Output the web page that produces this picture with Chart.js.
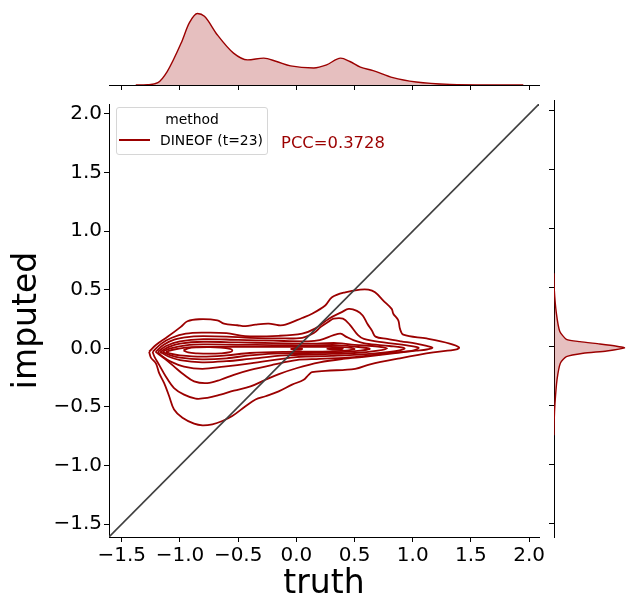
<!DOCTYPE html>
<html>
<head>
<meta charset="utf-8">
<script src="https://cdn.jsdelivr.net/npm/chart.js@4.4.1/dist/chart.umd.min.js"></script>
<style>
  body { margin: 0; background: #fff; }
  #wrap { position: relative; width: 637px; height: 615px; font-family: 'DejaVu Sans', sans-serif; }
  canvas { position: absolute; }
</style>
</head>
<body>
<div id="wrap">
  <canvas id="topChart" width="550" height="100" style="left:0;top:0"></canvas>
  <canvas id="mainChart" width="550" height="525" style="left:0;top:90px"></canvas>
  <canvas id="rightChart" width="97" height="525" style="left:540px;top:90px"></canvas>

  <div id="legend" style="position:absolute;left:116px;top:107px;width:150px;height:46px;border:1px solid #d6d6d6;border-radius:3px;background:rgba(255,255,255,0.8);font-size:13.9px;color:#000">
    <div style="position:absolute;left:0;width:100%;top:2px;text-align:center;line-height:18px">method</div>
    <div style="position:absolute;left:2px;top:31px;width:31px;height:2px;background:#9b0000"></div>
    <div style="position:absolute;left:43px;top:23px;line-height:18px;white-space:nowrap">DINEOF (t=23)</div>
  </div>
  <div id="pcc" style="position:absolute;left:281px;top:133px;font-size:16.4px;line-height:20px;color:#9b0000;white-space:nowrap">PCC=0.3728</div>
</div>

<script>
const lineColor = '#9b0000';
const fillColor = 'rgba(155,0,0,0.25)';

// axis limits and ticks (shared by x and y)
const axisMin = -1.61;
const axisMax = 2.085;
const tickValues = [-1.5, -1.0, -0.5, 0.0, 0.5, 1.0, 1.5, 2.0];

// identity line
const diagonal = [[-1.61, -1.61], [2.085, 2.085]];

// marginal kde of truth
const truthX = [-1.38, -1.28, -1.19, -1.11, -0.99, -0.92, -0.85, -0.79, -0.68, -0.54, -0.42, -0.28, -0.17, -0.05, 0.15, 0.26, 0.38, 0.46, 0.55, 0.66, 0.83, 1.03, 1.32, 1.75, 1.95];
const truthDensity = [0, 0.004, 0.033, 0.188, 0.587, 0.869, 1.0, 0.962, 0.704, 0.446, 0.352, 0.376, 0.329, 0.268, 0.239, 0.282, 0.376, 0.329, 0.249, 0.202, 0.103, 0.042, 0.009, 0.001, 0];

// marginal kde of imputed
const imputedY = [-0.75, -0.62, -0.48, -0.28, -0.14, -0.085, -0.056, -0.037, -0.011, 0.003, 0.022, 0.042, 0.062, 0.13, 0.285, 0.48, 0.62];
const imputedDensity = [0, 0.003, 0.014, 0.043, 0.09, 0.176, 0.414, 0.748, 1.0, 0.89, 0.652, 0.367, 0.176, 0.081, 0.033, 0.004, 0];

// kde contour levels, outermost first (truth, imputed)
const contour1 = [[-1.265,-0.029],[-1.207,0.028],[-1.107,0.098],[-0.993,0.183],[-0.936,0.231],[-0.836,0.248],[-0.679,0.239],[-0.622,0.21],[-0.508,0.197],[-0.437,0.189],[-0.351,0.202],[-0.237,0.21],[-0.152,0.197],[-0.094,0.202],[0.049,0.259],[0.134,0.295],[0.248,0.366],[0.306,0.436],[0.42,0.478],[0.548,0.501],[0.619,0.501],[0.676,0.478],[0.747,0.408],[0.819,0.337],[0.833,0.295],[0.876,0.239],[0.89,0.168],[0.919,0.117],[1.119,0.084],[1.318,0.041],[1.398,0.008],[1.376,-0.009],[1.176,-0.035],[0.89,-0.085],[0.634,-0.136],[0.505,-0.175],[0.248,-0.192],[0.134,-0.204],[0.105,-0.226],[0.063,-0.268],[-0.037,-0.31],[-0.152,-0.367],[-0.265,-0.409],[-0.351,-0.437],[-0.437,-0.494],[-0.551,-0.578],[-0.636,-0.62],[-0.722,-0.648],[-0.807,-0.657],[-0.879,-0.643],[-0.979,-0.593],[-1.051,-0.522],[-1.093,-0.409],[-1.136,-0.297],[-1.179,-0.212],[-1.207,-0.128],[-1.25,-0.079],[-1.265,-0.029]];
const contour2 = [[-1.235,-0.03],[-1.16,0.04],[-1.07,0.09],[-0.95,0.125],[-0.8,0.134],[-0.6,0.13],[-0.44,0.104],[-0.15,0.107],[0.05,0.126],[0.16,0.168],[0.28,0.253],[0.39,0.309],[0.45,0.337],[0.52,0.32],[0.57,0.28],[0.61,0.21],[0.65,0.15],[0.68,0.1],[0.78,0.08],[0.9,0.06],[1.03,0.04],[1.12,0.02],[1.17,0.005],[1.12,-0.01],[1.03,-0.02],[0.85,-0.04],[0.6,-0.07],[0.4,-0.09],[0.2,-0.12],[0.0,-0.17],[-0.15,-0.22],[-0.265,-0.268],[-0.394,-0.325],[-0.537,-0.361],[-0.651,-0.395],[-0.765,-0.423],[-0.865,-0.429],[-0.965,-0.395],[-1.051,-0.339],[-1.122,-0.24],[-1.179,-0.141],[-1.22,-0.07],[-1.235,-0.03]];
const contour3 = [[-1.21,-0.03],[-1.14,0.03],[-1.05,0.075],[-0.9,0.1],[-0.8,0.104],[-0.6,0.1],[-0.4,0.09],[-0.15,0.085],[0.05,0.09],[0.15,0.13],[0.21,0.183],[0.28,0.23],[0.32,0.253],[0.4,0.253],[0.46,0.2],[0.53,0.112],[0.58,0.08],[0.75,0.05],[0.95,0.025],[1.05,0.005],[1.0,-0.02],[0.8,-0.04],[0.5,-0.075],[0.2,-0.09],[0.0,-0.1],[-0.2,-0.14],[-0.394,-0.184],[-0.537,-0.226],[-0.651,-0.268],[-0.765,-0.297],[-0.879,-0.282],[-0.965,-0.226],[-1.05,-0.156],[-1.13,-0.09],[-1.21,-0.03]];
const contour4 = [[-1.19,-0.03],[-1.12,0.02],[-1.0,0.06],[-0.8,0.079],[-0.5,0.072],[-0.2,0.065],[0.1,0.06],[0.2,0.07],[0.32,0.112],[0.38,0.126],[0.43,0.098],[0.49,0.07],[0.6,0.04],[0.8,0.02],[0.93,0.0],[0.85,-0.025],[0.6,-0.05],[0.3,-0.065],[0.0,-0.075],[-0.394,-0.128],[-0.622,-0.156],[-0.807,-0.175],[-0.965,-0.156],[-1.079,-0.113],[-1.15,-0.07],[-1.19,-0.03]];
const contour5 = [[-1.17,-0.03],[-1.1,0.01],[-1.0,0.04],[-0.8,0.056],[-0.5,0.05],[-0.2,0.045],[0.1,0.04],[0.35,0.045],[0.5,0.03],[0.7,0.015],[0.78,0.0],[0.7,-0.02],[0.5,-0.04],[0.2,-0.05],[-0.1,-0.06],[-0.4,-0.09],[-0.6,-0.11],[-0.81,-0.119],[-1.0,-0.1],[-1.1,-0.07],[-1.17,-0.03]];
const contour6 = [[-1.15,-0.03],[-1.08,0.0],[-0.95,0.025],[-0.8,0.033],[-0.5,0.03],[-0.2,0.028],[0.1,0.025],[0.35,0.028],[0.5,0.015],[0.63,-0.003],[0.55,-0.02],[0.35,-0.035],[0.1,-0.04],[-0.2,-0.045],[-0.4,-0.06],[-0.6,-0.085],[-0.81,-0.094],[-1.0,-0.08],[-1.08,-0.06],[-1.15,-0.03]];
const contour7 = [[-1.12,-0.03],[-1.05,-0.01],[-0.9,0.01],[-0.7,0.012],[-0.4,0.012],[-0.1,0.012],[0.2,0.012],[0.4,0.01],[0.5,-0.005],[0.42,-0.02],[0.2,-0.028],[-0.1,-0.03],[-0.4,-0.04],[-0.6,-0.06],[-0.81,-0.071],[-1.0,-0.06],[-1.08,-0.045],[-1.12,-0.03]];
const contour8a = [[-0.97,-0.018],[-0.93,0.0],[-0.85,0.008],[-0.75,0.01],[-0.65,0.007],[-0.57,-0.005],[-0.55,-0.018],[-0.57,-0.033],[-0.65,-0.043],[-0.75,-0.046],[-0.85,-0.043],[-0.93,-0.035],[-0.97,-0.018]];
const contour8b = [[-0.05,-0.005],[0.0,0.003],[0.05,-0.005],[0.0,-0.013],[-0.05,-0.005]];
const contour8c = [[0.26,-0.003],[0.33,0.005],[0.4,-0.003],[0.33,-0.011],[0.26,-0.003]];
const contours = [contour1, contour2, contour3, contour4, contour5, contour6, contour7, contour8a, contour8b, contour8c];

const font = 'DejaVu Sans';
const fmt = v => (v < 0 ? '\u2212' : '') + Math.abs(v).toFixed(1);
const setTicks = s => { s.ticks = tickValues.map(v => ({ value: v })); };
const toXY = arr => arr.map(p => ({ x: p[0], y: p[1] }));

function axisStyle(showLabels) {
  return {
    type: 'linear', min: axisMin, max: axisMax,
    afterBuildTicks: setTicks,
    grid: { drawOnChartArea: false, drawTicks: true, tickLength: 5, color: '#000', lineWidth: 1 },
    border: { display: true, color: '#000', width: 1 },
    ticks: { display: showLabels, color: '#000', font: { family: font, size: 20 }, padding: 2, callback: fmt, maxRotation: 0, autoSkip: false }
  };
}

// main joint plot
const mainX = axisStyle(true);
mainX.afterFit = s => { s.height = 78; };
mainX.title = { display: true, text: 'truth', color: '#000', font: { family: font, size: 33 }, padding: { top: 0, bottom: 11 } };
const mainY = axisStyle(true);
mainY.afterFit = s => { s.width = 109; };
mainY.title = { display: true, text: 'imputed', color: '#000', font: { family: font, size: 33 }, padding: { top: 8, bottom: 0 } };

const datasets = [{
  data: toXY(diagonal), showLine: true, borderColor: '#404040', borderWidth: 1.6,
  pointRadius: 0, order: 0
}];
contours.forEach(c => datasets.push({
  data: toXY(c), showLine: true, borderColor: lineColor, borderWidth: 1.8,
  pointRadius: 0, tension: 0.35, order: 1
}));

new Chart(document.getElementById('mainChart'), {
  type: 'scatter',
  data: { datasets: datasets },
  options: {
    responsive: false, animation: false,
    layout: { padding: { left: 0, right: 11, top: 10, bottom: 0 } },
    plugins: { legend: { display: false }, tooltip: { enabled: false } },
    scales: { x: mainX, y: mainY }
  }
});

// top marginal
const topX = axisStyle(false);
topX.afterFit = s => { s.height = 15; };
new Chart(document.getElementById('topChart'), {
  type: 'scatter',
  data: { datasets: [{
    data: truthX.map((x, i) => ({ x: x, y: truthDensity[i] })),
    showLine: true, borderColor: lineColor, borderWidth: 1.4, backgroundColor: fillColor,
    fill: 'origin', pointRadius: 0, cubicInterpolationMode: 'monotone'
  }] },
  options: {
    responsive: false, animation: false,
    layout: { padding: { left: 109, right: 11, top: 10, bottom: 0 } },
    plugins: { legend: { display: false }, tooltip: { enabled: false } },
    scales: { x: topX, y: { display: false, min: 0, max: 1.05 } }
  }
});

// right marginal
const rightY = axisStyle(false);
rightY.afterFit = s => { s.width = 14; };
new Chart(document.getElementById('rightChart'), {
  type: 'scatter',
  data: { datasets: [{
    data: imputedY.map((y, i) => ({ x: imputedDensity[i], y: y })),
    showLine: true, borderColor: lineColor, borderWidth: 1.4, backgroundColor: fillColor,
    fill: 'shape', pointRadius: 0, tension: 0.2
  }] },
  options: {
    responsive: false, animation: false,
    layout: { padding: { left: 0, right: 9, top: 10, bottom: 78 } },
    plugins: { legend: { display: false }, tooltip: { enabled: false } },
    scales: { y: rightY, x: { display: false, min: 0, max: 1.05 } }
  }
});
</script>
</body>
</html>
